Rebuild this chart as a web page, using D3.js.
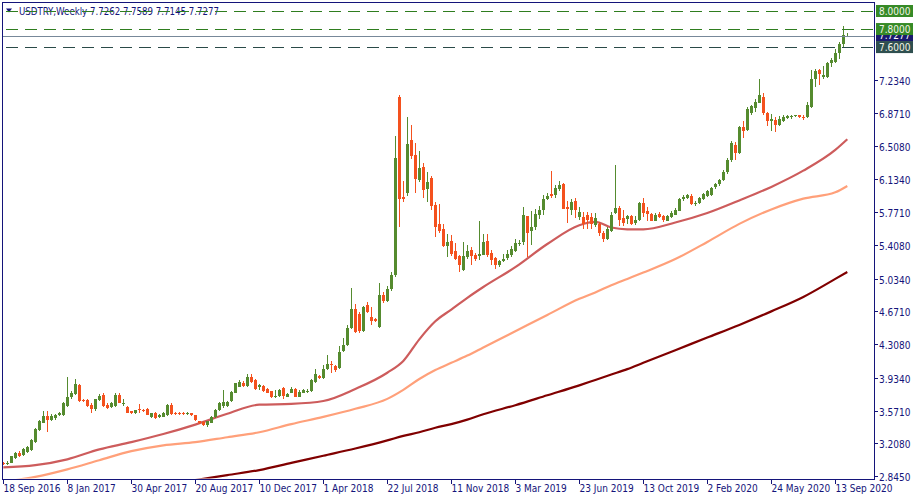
<!DOCTYPE html>
<html><head><meta charset="utf-8">
<script src="https://cdn.jsdelivr.net/npm/d3@7"></script>
<style>
html,body{margin:0;padding:0;background:#fff;}
svg{display:block;font-family:'DejaVu Sans Condensed','DejaVu Sans',sans-serif;font-stretch:condensed;}
</style></head><body>
<svg id="chart" width="915" height="500"></svg>
<script>
const symbol = "USDTRY,Weekly";
const lastBar = ["7.7262", "7.7589", "7.7145", "7.7277"];

const open = [
2.985,2.975,2.993,3.04,3.10,3.08,3.11,3.135,3.225,3.355,
3.436,3.51,3.466,3.484,3.52,3.52,3.625,3.717,3.754,3.854,
3.687,3.687,3.636,3.584,3.687,3.747,3.636,3.606,3.62,3.747,
3.65,3.613,3.562,3.54,3.585,3.58,3.584,3.50,3.547,3.495,
3.503,3.52,3.628,3.54,3.545,3.54,3.53,3.54,3.518,3.45,
3.443,3.406,3.436,3.50,3.58,3.62,3.62,3.68,3.77,3.835,
3.872,3.842,3.946,3.909,3.828,3.843,3.806,3.784,3.717,3.732,
3.821,3.725,3.769,3.806,3.725,3.77,3.785,3.79,3.887,3.954,
3.932,4.028,4.085,4.065,4.042,4.234,4.301,4.486,4.70,4.64,
4.456,4.737,4.604,4.589,4.50,4.85,4.79,4.92,5.073,7.05,
5.942,5.98,6.57,6.407,6.127,6.267,6.03,6.149,5.853,5.639,
5.587,5.395,5.454,5.336,5.284,5.129,5.277,5.35,5.299,5.284,
5.299,5.446,5.321,5.262,5.188,5.225,5.262,5.299,5.343,5.42,
5.439,5.727,5.565,5.609,5.742,5.794,5.919,5.971,5.956,6.031,
6.082,5.823,5.794,5.89,5.713,5.713,5.735,5.713,5.625,5.639,
5.535,5.469,5.557,5.757,5.816,5.705,5.698,5.727,5.646,5.683,
5.868,5.786,5.75,5.676,5.75,5.727,5.676,5.72,5.742,5.786,
5.912,5.927,5.949,5.86,5.868,5.919,5.949,5.956,6.045,6.08,
6.13,6.21,6.348,6.511,6.422,6.718,6.68,6.865,6.924,6.984,
7.043,6.873,6.784,6.791,6.74,6.784,6.813,6.828,6.84,6.843,
6.828,6.821,6.939,7.242,7.346,7.272,7.272,7.42,7.434,7.53,
7.634,7.7262];
const high = [
2.995,3.012,3.07,3.11,3.12,3.15,3.18,3.25,3.38,3.47,
3.566,3.566,3.53,3.53,3.55,3.67,3.939,3.79,3.916,3.87,
3.70,3.70,3.65,3.70,3.754,3.76,3.65,3.67,3.76,3.76,
3.70,3.62,3.57,3.58,3.643,3.59,3.60,3.545,3.55,3.53,
3.55,3.64,3.655,3.55,3.55,3.55,3.55,3.545,3.52,3.46,
3.45,3.46,3.51,3.59,3.67,3.80,3.68,3.79,3.88,3.91,
3.90,3.975,3.975,3.92,3.87,3.85,3.82,3.79,3.80,3.81,
3.83,3.77,3.835,3.82,3.80,3.81,3.81,3.92,4.035,3.97,
4.08,4.183,4.116,4.08,4.286,4.375,4.52,4.929,4.75,4.66,
4.73,4.774,4.715,4.60,4.981,4.88,4.95,5.103,6.614,7.065,
6.115,6.821,6.736,6.54,6.452,6.319,6.215,6.171,5.883,5.86,
5.639,5.528,5.517,5.424,5.29,5.439,5.41,5.387,5.314,5.676,
5.528,5.528,5.35,5.277,5.24,5.306,5.35,5.395,5.476,5.46,
5.831,5.73,5.779,5.801,5.838,5.964,5.986,6.23,6.075,6.119,
6.09,5.897,5.912,5.927,5.823,5.772,5.772,5.757,5.757,5.661,
5.557,5.60,5.771,6.296,5.838,5.794,5.742,5.735,5.727,5.882,
5.927,5.831,5.764,5.757,5.772,5.742,5.742,5.779,5.816,5.927,
5.956,5.97,5.971,5.897,5.935,5.98,6.015,6.045,6.09,6.14,
6.24,6.37,6.56,6.548,6.725,6.784,6.932,6.96,7.02,7.25,
7.094,6.88,6.858,6.821,6.836,6.85,6.85,6.85,6.85,6.85,
6.843,6.99,7.346,7.36,7.36,7.39,7.434,7.479,7.575,7.656,
7.833,7.7589];
const low = [
2.965,2.965,2.985,3.03,3.06,3.07,3.10,3.12,3.21,3.34,
3.43,3.336,3.45,3.47,3.51,3.51,3.61,3.70,3.74,3.67,
3.66,3.61,3.547,3.57,3.68,3.61,3.59,3.595,3.61,3.65,
3.62,3.54,3.53,3.53,3.54,3.56,3.52,3.49,3.48,3.49,
3.50,3.51,3.52,3.52,3.525,3.52,3.52,3.51,3.46,3.42,
3.40,3.39,3.43,3.49,3.57,3.60,3.61,3.67,3.76,3.83,
3.83,3.83,3.872,3.80,3.80,3.78,3.76,3.71,3.71,3.725,
3.70,3.72,3.76,3.72,3.72,3.76,3.77,3.78,3.88,3.92,
3.92,4.02,3.99,4.00,4.03,4.22,4.29,4.47,4.434,4.43,
4.44,4.65,4.523,4.55,4.49,4.76,4.77,4.90,5.05,5.61,
5.886,5.95,6.363,5.986,6.104,5.927,5.883,5.794,5.498,5.535,
5.38,5.277,5.284,5.24,5.11,5.118,5.254,5.188,5.232,5.24,
5.29,5.277,5.184,5.136,5.159,5.215,5.24,5.277,5.33,5.39,
5.41,5.277,5.41,5.572,5.69,5.742,5.905,5.927,5.927,6.0,
5.80,5.653,5.735,5.705,5.683,5.587,5.587,5.587,5.60,5.506,
5.439,5.46,5.55,5.75,5.617,5.617,5.639,5.631,5.631,5.67,
5.72,5.676,5.668,5.67,5.705,5.661,5.668,5.705,5.735,5.779,
5.897,5.92,5.853,5.838,5.86,5.91,5.94,5.95,6.03,6.06,
6.11,6.19,6.33,6.348,6.415,6.592,6.673,6.85,6.88,6.976,
6.85,6.725,6.673,6.658,6.73,6.77,6.80,6.806,6.83,6.815,
6.791,6.81,6.93,7.154,7.183,7.25,7.26,7.383,7.42,7.471,
7.597,7.7145];
const close = [
2.975,2.99,3.065,3.10,3.07,3.14,3.17,3.24,3.362,3.455,
3.51,3.466,3.51,3.52,3.54,3.65,3.725,3.77,3.865,3.68,
3.673,3.62,3.584,3.695,3.732,3.62,3.598,3.658,3.747,3.658,
3.655,3.547,3.54,3.576,3.578,3.57,3.525,3.54,3.484,3.517,
3.54,3.628,3.532,3.535,3.53,3.53,3.54,3.518,3.466,3.43,
3.406,3.45,3.50,3.576,3.655,3.66,3.665,3.78,3.872,3.887,
3.842,3.946,3.887,3.813,3.857,3.791,3.769,3.717,3.732,3.798,
3.732,3.754,3.806,3.725,3.776,3.80,3.79,3.909,3.976,3.932,
4.035,4.087,4.08,4.02,4.22,4.30,4.486,4.693,4.44,4.456,
4.715,4.663,4.567,4.567,4.848,4.79,4.92,5.073,6.37,5.92,
5.92,6.525,6.39,6.141,6.26,6.016,6.104,5.838,5.609,5.565,
5.395,5.439,5.306,5.254,5.188,5.284,5.336,5.284,5.254,5.306,
5.439,5.299,5.24,5.188,5.232,5.254,5.306,5.365,5.432,5.424,
5.742,5.543,5.602,5.749,5.794,5.919,5.949,5.949,6.038,6.075,
5.801,5.801,5.882,5.794,5.772,5.639,5.683,5.639,5.70,5.535,
5.469,5.587,5.735,5.816,5.683,5.654,5.727,5.639,5.683,5.875,
5.764,5.75,5.676,5.742,5.72,5.683,5.727,5.764,5.794,5.919,
5.942,5.956,5.86,5.875,5.927,5.971,6.008,6.038,6.082,6.13,
6.22,6.35,6.54,6.43,6.718,6.673,6.917,6.947,6.991,7.065,
6.873,6.784,6.799,6.74,6.806,6.828,6.835,6.832,6.843,6.821,
6.82,6.954,7.242,7.338,7.301,7.286,7.427,7.457,7.538,7.634,
7.737,7.7277];

// moving averages at these bar numbers
const maWeeks = [0,8,16,24,32,40,48,56,64,72,80,88,96,100,104,108,112,116,120,128,136,144,148,152,156,160,168,176,184,192,200,208,211];
const maFast  = [2.94,2.965,3.03,3.14,3.22,3.31,3.415,3.535,3.636,3.644,3.676,3.81,3.99,4.12,4.36,4.56,4.69,4.82,4.94,5.16,5.417,5.625,5.662,5.60,5.58,5.58,5.655,5.76,5.90,6.05,6.23,6.46,6.578];
const maMid   = [2.78,2.835,2.919,3.02,3.12,3.185,3.22,3.275,3.33,3.42,3.50,3.59,3.70,3.80,3.92,4.02,4.10,4.18,4.27,4.45,4.63,4.81,4.88,4.96,5.03,5.10,5.25,5.44,5.64,5.80,5.92,5.99,6.06];
const maSlow  = [null,null,null,null,null,null,2.80,2.855,2.91,2.99,3.07,3.15,3.24,3.29,3.33,3.38,3.42,3.47,3.53,3.63,3.74,3.85,3.91,3.97,4.03,4.10,4.24,4.38,4.52,4.67,4.83,5.03,5.107];

const priceTicks = [7.234,6.871,6.508,6.134,5.771,5.408,5.034,4.671,4.308,3.934,3.571,3.208,2.845];
const dateTicks = ["18 Sep 2016","8 Jan 2017","30 Apr 2017","20 Aug 2017","10 Dec 2017","1 Apr 2018","22 Jul 2018","11 Nov 2018","3 Mar 2019","23 Jun 2019","13 Oct 2019","2 Feb 2020","24 May 2020","13 Sep 2020"];
const dateTickStep = 16;
const levels = [
  {v: 8.0, label: "8.0000", color: "#2f7d1f", box: "#368a26", dash: "12,7"},
  {v: 7.8, label: "7.8000", color: "#2f7d1f", box: "#368a26", dash: "12,7"},
  {v: 7.6, label: "7.6000", color: "#2a4a48", box: "#2f4f4f", dash: "12,7"}
];
const current = {v: 7.7277, label: "7.7277"};

const W = 915, H = 500;
const P = {l: 2, t: 2, r: 874, b: 479};
const navy = "#14147a";
const bull = "#558b2f", bear = "#f4511e";

const svg = d3.select("#chart");
svg.append("rect").attr("width", W).attr("height", H).attr("fill", "#fff");

const n = close.length;
const x = d3.scaleLinear().domain([0, n - 1]).range([3.3, 3.3 + 4 * (n - 1)]);
const y = d3.scaleLinear().domain([2.845, 8.0]).range([476, 11]);

svg.append("clipPath").attr("id", "plotclip")
  .append("rect").attr("x", P.l + 0.5).attr("y", P.t + 0.5)
  .attr("width", P.r - P.l - 1).attr("height", P.b - P.t - 1);

// title
const title = svg.append("g");
title.append("path").attr("d", "M6,8.5 L12,8.5 L9,12.5 Z").attr("fill", navy);
title.append("text").attr("x", 19).attr("y", 14.5).attr("font-size", 9.6).attr("fill", navy)
  .text(symbol + "  " + lastBar.join(" "));

const g = svg.append("g").attr("clip-path", "url(#plotclip)");

// moving averages
const maLine = (vals) => d3.line()
  .defined((d, k) => vals[k] != null)
  .x((d) => x(d))
  .y((d, k) => y(vals[k]))
  .curve(d3.curveMonotoneX)(maWeeks);
[[maSlow, "#800000"], [maMid, "#ffa07a"], [maFast, "#cd5c5c"]].forEach(([vals, col]) => {
  g.append("path").attr("d", maLine(vals)).attr("fill", "none")
   .attr("stroke", col).attr("stroke-width", 2.2);
});

// level lines
const lv = svg.append("g");
lv.append("line").attr("x1", P.l).attr("x2", P.r)
  .attr("y1", Math.round(y(current.v)) + 0.5).attr("y2", Math.round(y(current.v)) + 0.5)
  .attr("stroke", "#778899").attr("stroke-width", 1);
levels.forEach(L => {
  const yy = Math.round(y(L.v)) + 0.5;
  lv.append("line").attr("x1", P.l + 4).attr("x2", P.r).attr("y1", yy).attr("y2", yy)
    .attr("stroke", L.color).attr("stroke-width", 1).attr("stroke-dasharray", L.dash);
});

// candles
const idx = d3.range(n);
const cg = g.append("g").attr("shape-rendering", "crispEdges");
cg.selectAll("line.w").data(idx).join("line")
  .attr("x1", i => Math.round(x(i)) + 0.5).attr("x2", i => Math.round(x(i)) + 0.5)
  .attr("y1", i => y(high[i])).attr("y2", i => y(low[i]))
  .attr("stroke", i => close[i] >= open[i] ? bull : bear).attr("stroke-width", 1);
cg.selectAll("rect.b").data(idx).join("rect")
  .attr("x", i => Math.round(x(i)) - 1).attr("width", 3)
  .attr("y", i => Math.min(y(open[i]), y(close[i])))
  .attr("height", i => Math.max(1, Math.abs(y(open[i]) - y(close[i]))))
  .attr("fill", i => close[i] >= open[i] ? bull : bear);

// frame
svg.append("rect").attr("x", P.l + 0.5).attr("y", P.t + 0.5)
  .attr("width", P.r - P.l).attr("height", P.b - P.t)
  .attr("fill", "none").attr("stroke", navy).attr("stroke-width", 1)
  .attr("shape-rendering", "crispEdges");

// right axis
const ra = svg.append("g").attr("font-size", 10).attr("fill", navy);
priceTicks.forEach(v => {
  const yy = Math.round(y(v)) + 0.5;
  ra.append("line").attr("x1", P.r).attr("x2", P.r + 4).attr("y1", yy).attr("y2", yy)
    .attr("stroke", navy).attr("shape-rendering", "crispEdges");
  ra.append("text").attr("x", P.r + 5).attr("y", yy + 4).text(d3.format(".4f")(v));
});

// bottom axis
const ba = svg.append("g").attr("font-size", 10).attr("fill", navy);
dateTicks.forEach((lab, k) => {
  const xx = Math.round(x(k * dateTickStep)) + 0.5;
  ba.append("line").attr("x1", xx).attr("x2", xx).attr("y1", P.b).attr("y2", P.b + 5)
    .attr("stroke", navy).attr("shape-rendering", "crispEdges");
  ba.append("text").attr("x", xx).attr("y", 492).text(lab);
});

// price label boxes (current price drawn first, partly covered as in the original)
const bx = svg.append("g").attr("font-size", 10);
function priceBox(v, label, fill, txt, h) {
  const yy = y(v);
  bx.append("rect").attr("x", P.r + 2).attr("y", yy - h / 2).attr("width", 37).attr("height", h)
    .attr("fill", fill);
  bx.append("text").attr("x", P.r + 5).attr("y", yy + 3.6).attr("fill", txt).text(label);
}
priceBox(current.v, current.label, "#1a1a6e", "#ffffff", 12);
levels.forEach(L => priceBox(L.v, L.label, L.box, "#f4f4e8", 12));
</script>
</body></html>
